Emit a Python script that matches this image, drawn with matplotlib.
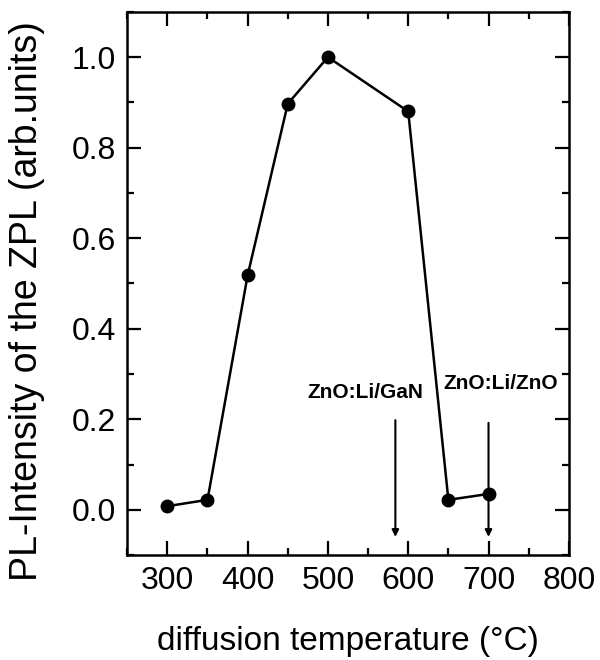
import numpy as np
import matplotlib.pyplot as plt
from matplotlib.ticker import MultipleLocator

plt.rcParams['font.family'] = ['Liberation Sans', 'DejaVu Sans']

temps = [300, 350, 400, 450, 500, 600, 650, 700]
intensity = [0.008, 0.022, 0.518, 0.897, 1.0, 0.88, 0.022, 0.035]

arrow_x = [584, 700]
arrow_top = [0.198, 0.192]
arrow_labels = ["ZnO:Li/GaN", "ZnO:Li/ZnO"]
label_x = [546, 715]
label_y = [0.26, 0.28]

fig = plt.figure(figsize=(6, 6.6), dpi=100)
ax = fig.add_axes([0.212, 0.159, 0.736, 0.823])

ax.plot(temps, intensity, 'k-', lw=1.8, marker='o', ms=9)

for xa, yt, lab, lx, ly in zip(arrow_x, arrow_top, arrow_labels, label_x, label_y):
    ax.annotate('', xy=(xa, -0.06), xytext=(xa, yt),
                arrowprops=dict(arrowstyle='-|>', color='k', lw=1.5,
                                mutation_scale=10, shrinkA=0, shrinkB=0))
    ax.text(lx, ly, lab, ha='center', va='center', fontsize=15,
            fontweight='bold')

ax.set_xlim(250, 800)
ax.set_ylim(-0.1, 1.1)
ax.xaxis.set_major_locator(MultipleLocator(100))
ax.xaxis.set_minor_locator(MultipleLocator(50))
ax.yaxis.set_minor_locator(MultipleLocator(0.1))
ax.set_yticks([0.0, 0.2, 0.4, 0.6, 0.8, 1.0])
ax.set_yticklabels(['0.0', '0.2', '0.4', '0.6', '0.8', '1.0'])

ax.tick_params(which='both', direction='in', top=True, right=True,
               labelsize=23, width=1.6)
ax.tick_params(which='major', length=10, pad=8)
ax.tick_params(which='minor', length=5)
for s in ax.spines.values():
    s.set_linewidth(1.8)

ax.set_xlabel('diffusion temperature (°C)', fontsize=24)
ax.set_ylabel('PL-Intensity of the ZPL (arb.units)', fontsize=27)
ax.xaxis.set_label_coords(0.5, -0.13)
ax.yaxis.set_label_coords(-0.186, 0.468)

fig.savefig('out.png', dpi=100)
